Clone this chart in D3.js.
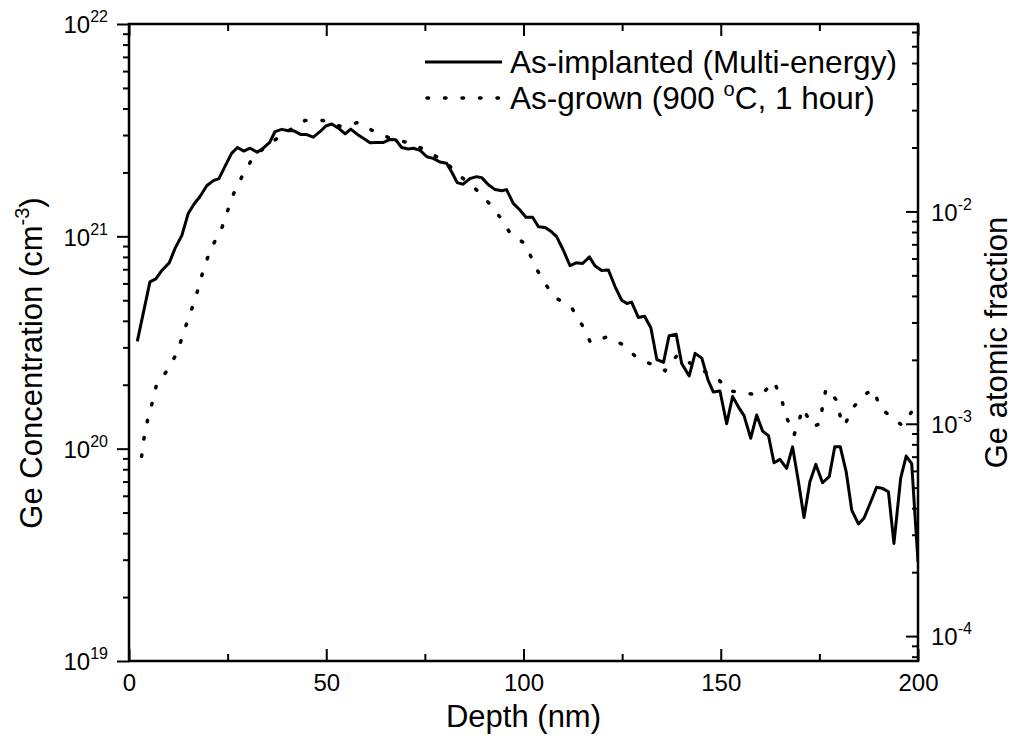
<!DOCTYPE html>
<html>
<head>
<meta charset="utf-8">
<script src="https://cdn.jsdelivr.net/npm/d3@7"></script>
<style>
  body { margin: 0; background: #fff; }
  svg text { font-family: "Liberation Sans", Arial, sans-serif; fill: #000; }
</style>
</head>
<body>
<svg id="chart"></svg>
<script>
// As-implanted (multi-energy), solid line
const implDepth = [2.1, 5.3, 6.8, 8.3, 10.2, 11.7, 13.4, 15.0, 16.5, 18.0, 19.7, 21.4, 22.8, 24.3, 26.0,
  27.5, 29.1, 30.7, 32.5, 34.0, 35.6, 37.0, 38.7, 40.4, 41.8, 43.5, 44.9, 46.7, 48.4, 49.9, 51.4, 53.1,
  54.8, 56.2, 57.9, 59.4, 61.1, 62.6, 64.5, 66.2, 67.6, 69.1, 70.8, 72.1, 73.8, 75.5, 77.1, 78.8, 80.5,
  81.8, 83.2, 84.7, 86.4, 88.1, 89.4, 91.1, 92.8, 94.5, 95.7, 97.4, 99.1, 100.6, 102.3, 103.8, 105.5,
  107.1, 108.4, 110.1, 111.8, 113.3, 115.0, 116.7, 118.1, 119.8, 121.5, 123.2, 124.9, 126.2, 127.4,
  129.1, 130.7, 132.3, 133.8, 135.5, 136.9, 138.7, 140.1, 142.0, 143.5, 145.2, 146.8, 148.1, 149.8,
  151.5, 153.0, 154.5, 155.9, 157.6, 159.1, 160.6, 162.1, 163.5, 165.0, 166.7, 168.2, 169.7, 171.1,
  172.6, 174.1, 175.8, 177.5, 178.9, 180.3, 181.8, 183.2, 184.9, 186.3, 187.8, 189.5, 191.0, 192.5,
  193.9, 195.6, 197.0, 198.4, 200.0];
const implConc = [3.2e20, 6.1e20, 6.3e20, 6.9e20, 7.5e20, 8.8e20, 1.01e21, 1.28e21, 1.42e21, 1.54e21,
  1.73e21, 1.83e21, 1.87e21, 2.13e21, 2.46e21, 2.62e21, 2.52e21, 2.6e21, 2.49e21, 2.6e21, 2.76e21,
  3.11e21, 3.19e21, 3.14e21, 3.14e21, 3.02e21, 3.02e21, 2.93e21, 3.11e21, 3.31e21, 3.38e21, 3.23e21,
  3.04e21, 3.2e21, 3.02e21, 2.9e21, 2.76e21, 2.77e21, 2.77e21, 2.86e21, 2.85e21, 2.62e21, 2.58e21,
  2.6e21, 2.54e21, 2.37e21, 2.33e21, 2.24e21, 2.21e21, 2.01e21, 1.79e21, 1.76e21, 1.87e21, 1.91e21,
  1.89e21, 1.75e21, 1.66e21, 1.64e21, 1.66e21, 1.43e21, 1.33e21, 1.23e21, 1.23e21, 1.11e21, 1.1e21,
  1.05e21, 9.96e20, 8.6e20, 7.27e20, 7.5e20, 7.45e20, 8.0e20, 7.27e20, 6.9e20, 6.95e20, 5.8e20, 5.0e20,
  4.83e20, 4.9e20, 4.15e20, 4.2e20, 3.7e20, 2.63e20, 2.55e20, 3.4e20, 3.46e20, 2.52e20, 2.2e20, 2.81e20,
  2.67e20, 2.1e20, 1.85e20, 1.87e20, 1.31e20, 1.76e20, 1.57e20, 1.43e20, 1.12e20, 1.44e20, 1.21e20,
  1.15e20, 8.58e19, 8.9e19, 8.08e19, 1.02e20, 6.98e19, 4.74e19, 6.98e19, 8.43e19, 6.91e19, 7.38e19,
  1.02e20, 1.02e20, 7.78e19, 5.14e19, 4.42e19, 4.7e19, 5.49e19, 6.58e19, 6.5e19, 6.27e19, 3.58e19,
  7.25e19, 9.23e19, 8.5e19, 2.93e19];

// As-grown (900 C, 1 hour), dotted line
const grownDepth = [3.2, 3.8, 4.7, 5.9, 7.0, 9.6, 12.1, 13.6, 15.1, 16.7, 18.0, 19.3, 21.0, 23.5, 25.0,
  26.6, 28.8, 31.5, 35.7, 40.4, 44.6, 49.2, 53.9, 58.1, 62.6, 67.0, 71.7, 76.3, 80.5, 84.3, 88.0, 91.3,
  94.5, 96.8, 100.6, 102.5, 104.9, 107.8, 112.4, 115.0, 117.0, 121.1, 124.9, 128.5, 131.5, 134.2, 135.9,
  139.0, 141.9, 146.4, 149.6, 152.3, 156.6, 160.2, 163.5, 165.4, 166.7, 168.6, 169.7, 170.9, 173.2,
  175.2, 175.8, 176.7, 179.4, 180.4, 181.3, 183.6, 187.1, 188.8, 190.4, 193.6, 195.9, 198.4];
const grownConc = [9.2e19, 1.12e20, 1.36e20, 1.65e20, 2.01e20, 2.32e20, 2.81e20, 3.4e20, 4.14e20, 5.0e20,
  6.1e20, 7.4e20, 8.9e20, 1.09e21, 1.32e21, 1.6e21, 1.94e21, 2.36e21, 2.74e21, 3.14e21, 3.51e21, 3.51e21,
  3.28e21, 3.44e21, 3.08e21, 2.86e21, 2.74e21, 2.48e21, 2.21e21, 1.9e21, 1.66e21, 1.43e21, 1.2e21,
  1.02e21, 9.2e20, 7.5e20, 6.2e20, 5.2e20, 4.55e20, 3.78e20, 3.16e20, 3.36e20, 3.11e20, 2.71e20, 2.54e20,
  2.43e20, 2.33e20, 2.76e20, 2.55e20, 2.28e20, 2.1e20, 1.87e20, 1.82e20, 1.79e20, 2.07e20, 1.71e20,
  1.4e20, 1.16e20, 1.34e20, 1.55e20, 1.27e20, 1.31e20, 1.59e20, 1.92e20, 1.69e20, 1.39e20, 1.28e20,
  1.57e20, 1.83e20, 1.9e20, 1.55e20, 1.4e20, 1.29e20, 1.49e20];

const xMajor = [0, 50, 100, 150, 200];
const xMinor = [25, 75, 125, 175];
const leftMajor = [1e19, 1e20, 1e21, 1e22];
const leftExp = ["19", "20", "21", "22"];
const rightMajor = [1e-4, 1e-3, 1e-2];
const rightExp = ["-4", "-3", "-2"];
const legendNames = ["As-implanted (Multi-energy)", "As-grown (900 "];

const chartSize = { width: 1016, height: 752 };
const margin = { left: 129, right: 98, top: 24, bottom: 91 };
const width = chartSize.width - margin.left - margin.right;
const height = chartSize.height - margin.top - margin.bottom;
// conc -> atomic fraction divisor
const atomDensity = 1.31e23;

const svg = d3.select("#chart")
  .attr("width", chartSize.width)
  .attr("height", chartSize.height);

const g = svg.append("g").attr("transform", `translate(${margin.left},${margin.top})`);

const x = d3.scaleLinear().domain([0, 200]).range([0, width]);
const y = d3.scaleLog().domain([1e19, 1e22]).range([height, 0]);
const y2 = d3.scaleLog().domain([1e19 / atomDensity, 1e22 / atomDensity]).range([height, 0]);

const isMajor = v => Math.abs(Math.log10(v) - Math.round(Math.log10(v))) < 1e-6;
const leftMinor = y.ticks().filter(v => !isMajor(v));
const rightMinor = y2.ticks().filter(v => !isMajor(v));

const styleAxis = sel => {
  sel.select(".domain").remove();
  sel.selectAll("line").attr("stroke", "#000").attr("stroke-width", 2);
  sel.selectAll("text").attr("font-size", 24).attr("fill", "#000");
};

// bottom
g.append("g").attr("transform", `translate(0,${height})`)
  .call(d3.axisBottom(x).tickValues(xMajor).tickSize(-12).tickPadding(13).tickFormat(d3.format("d")))
  .call(styleAxis);
g.append("g").attr("transform", `translate(0,${height})`)
  .call(d3.axisBottom(x).tickValues(xMinor).tickSize(-7).tickFormat(""))
  .call(styleAxis);
// top
g.append("g")
  .call(d3.axisTop(x).tickValues(xMajor).tickSize(-12).tickFormat(""))
  .call(styleAxis);
g.append("g")
  .call(d3.axisTop(x).tickValues(xMinor).tickSize(-7).tickFormat(""))
  .call(styleAxis);

// left, ticks outside
const left = g.append("g")
  .call(d3.axisLeft(y).tickValues(leftMajor).tickSize(12).tickPadding(9).tickFormat(""))
  .call(styleAxis);
left.selectAll(".tick text").each(function (d, i) {
  const t = d3.select(this).attr("dy", "0.37em").attr("y", 0);
  t.append("tspan").text("10");
  t.append("tspan").attr("font-size", 16).attr("dy", -11).text(leftExp[i]);
});
g.append("g")
  .call(d3.axisLeft(y).tickValues(leftMinor).tickSize(6).tickFormat(""))
  .call(styleAxis);

// right, ticks inside
const right = g.append("g").attr("transform", `translate(${width},0)`)
  .call(d3.axisRight(y2).tickValues(rightMajor).tickSize(-12).tickPadding(13).tickFormat(""))
  .call(styleAxis);
right.selectAll(".tick text").each(function (d, i) {
  const t = d3.select(this).attr("dy", "0.37em");
  t.append("tspan").text("10");
  t.append("tspan").attr("font-size", 16).attr("dy", -11).text(rightExp[i]);
});
g.append("g").attr("transform", `translate(${width},0)`)
  .call(d3.axisRight(y2).tickValues(rightMinor).tickSize(-6).tickFormat(""))
  .call(styleAxis);

// frame
g.append("rect")
  .attr("width", width).attr("height", height)
  .attr("fill", "none").attr("stroke", "#000").attr("stroke-width", 2.5);

// data lines
g.append("clipPath").attr("id", "plot-clip")
  .append("rect").attr("width", width).attr("height", height);

const line = d3.line().x(p => x(p[0])).y(p => y(p[1]));

g.append("path")
  .attr("clip-path", "url(#plot-clip)")
  .attr("d", line(d3.zip(grownDepth, grownConc)))
  .attr("fill", "none").attr("stroke", "#000").attr("stroke-width", 3.5)
  .attr("stroke-linecap", "round").attr("stroke-dasharray", "1.5 16");

g.append("path")
  .attr("clip-path", "url(#plot-clip)")
  .attr("d", line(d3.zip(implDepth, implConc)))
  .attr("fill", "none").attr("stroke", "#000").attr("stroke-width", 3)
  .attr("stroke-linejoin", "round");

// legend
const legend = svg.append("g");
legend.append("line")
  .attr("x1", 425).attr("x2", 502).attr("y1", 62).attr("y2", 62)
  .attr("stroke", "#000").attr("stroke-width", 3);
legend.append("line")
  .attr("x1", 427).attr("x2", 504).attr("y1", 98).attr("y2", 98)
  .attr("stroke", "#000").attr("stroke-width", 3.5)
  .attr("stroke-linecap", "round").attr("stroke-dasharray", "1.5 16");
legend.append("text").attr("x", 510).attr("y", 73).attr("font-size", 31.5).text(legendNames[0]);
const lg2 = legend.append("text").attr("x", 510).attr("y", 109).attr("font-size", 31.5);
lg2.append("tspan").text(legendNames[1]);
lg2.append("tspan").attr("font-size", 20).attr("dy", -13).text("o");
lg2.append("tspan").attr("dy", 13).text("C, 1 hour)");

// axis titles
svg.append("text")
  .attr("x", margin.left + width / 2).attr("y", 727)
  .attr("text-anchor", "middle").attr("font-size", 31)
  .text("Depth (nm)");

const yt = svg.append("text")
  .attr("transform", "translate(42,363) rotate(-90)")
  .attr("text-anchor", "middle").attr("font-size", 31);
yt.append("tspan").text("Ge Concentration (cm");
yt.append("tspan").attr("font-size", 20).attr("dy", -13).text("-3");
yt.append("tspan").attr("dy", 13).text(")");

svg.append("text")
  .attr("transform", `translate(1007,${margin.top + height / 2}) rotate(-90)`)
  .attr("text-anchor", "middle").attr("font-size", 31)
  .text("Ge atomic fraction");
</script>
</body>
</html>
